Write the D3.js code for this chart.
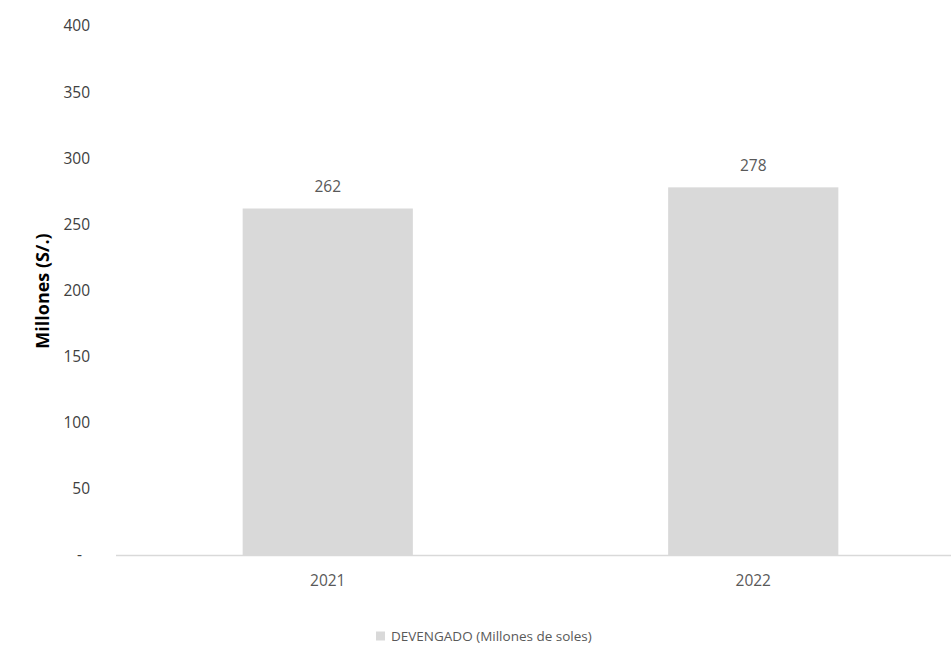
<!DOCTYPE html>
<html>
<head>
<meta charset="utf-8">
<script src="https://cdn.jsdelivr.net/npm/d3@7"></script>
<style>
  body { margin: 0; background: #fff; }
  text { font-family: "Open Sans", "Noto Sans", sans-serif; fill: #595959; }
</style>
</head>
<body>
<div id="chart"></div>
<script>
// data
var years = ["2021", "2022"];
var devengado = [262, 278];
var yTicks = [0, 50, 100, 150, 200, 250, 300, 350, 400];
var seriesName = "DEVENGADO (Millones de soles)";

var W = 951, H = 648;
var svg = d3.select("#chart").append("svg")
    .attr("width", W)
    .attr("height", H);

// scales
var xScale = d3.scaleBand().domain(years).range([115, 966]).paddingInner(0.6).paddingOuter(0.3);
var yScale = d3.scaleLinear().domain([0, 400]).range([555, 26]);

// y tick labels (zero shown as "-" like excel accounting format)
svg.selectAll(".ytick")
    .data(yTicks)
  .enter().append("text")
    .attr("class", "ytick")
    .attr("x", 90)
    .attr("y", function(d) { return yScale(d); })
    .attr("dx", function(d) { return d == 0 ? -8 : 0; })
    .attr("dy", ".35em")
    .style("text-anchor", "end")
    .style("font-size", "15.5px")
    .style("fill", "#404040")
    .text(function(d) { return d == 0 ? "-" : d; });

// bars
svg.selectAll(".bar")
    .data(devengado)
  .enter().append("rect")
    .attr("class", "bar")
    .attr("x", function(d, i) { return xScale(years[i]); })
    .attr("width", xScale.bandwidth())
    .attr("y", function(d) { return yScale(d); })
    .attr("height", function(d) { return yScale(0) - yScale(d); })
    .style("fill", "#d9d9d9");

// x axis line
svg.append("line")
    .attr("x1", 116).attr("x2", W)
    .attr("y1", yScale(0) + 0.5).attr("y2", yScale(0) + 0.5)
    .style("stroke", "#d9d9d9")
    .style("stroke-width", 1.5);

// value labels
svg.selectAll(".val")
    .data(devengado)
  .enter().append("text")
    .attr("class", "val")
    .attr("x", function(d, i) { return xScale(years[i]) + xScale.bandwidth() / 2; })
    .attr("y", function(d) { return yScale(d) - 22; })
    .attr("dy", ".35em")
    .style("text-anchor", "middle")
    .style("font-size", "15.5px")
    .text(function(d) { return d; });

// category labels
svg.selectAll(".cat")
    .data(years)
  .enter().append("text")
    .attr("class", "cat")
    .attr("x", function(d) { return xScale(d) + xScale.bandwidth() / 2; })
    .attr("y", 581)
    .attr("dy", ".35em")
    .style("text-anchor", "middle")
    .style("font-size", "15.5px")
    .text(function(d) { return d; });

// y axis title
svg.append("text")
    .attr("transform", "translate(43,291) rotate(-90)")
    .attr("dy", ".35em")
    .style("text-anchor", "middle")
    .style("font-size", "18px")
    .style("font-weight", "bold")
    .style("fill", "#000")
    .text("Millones (S/.)");

// legend
var legend = svg.append("g").attr("transform", "translate(376,636)");
legend.append("rect")
    .attr("x", 0).attr("y", -4.5)
    .attr("width", 9).attr("height", 9)
    .style("fill", "#d9d9d9");
legend.append("text")
    .attr("x", 15)
    .attr("y", 0)
    .attr("dy", ".35em")
    .style("font-size", "13.5px")
    .text(seriesName);
</script>
</body>
</html>
